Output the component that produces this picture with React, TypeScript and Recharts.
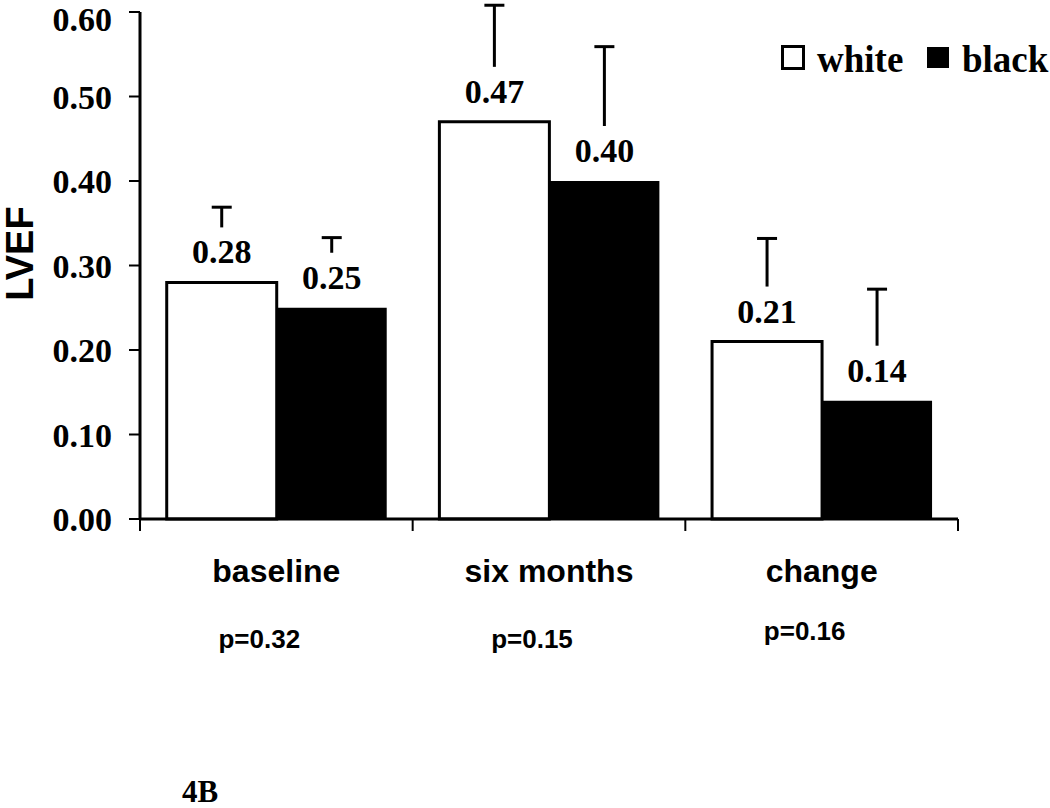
import { Bar, BarChart, LabelList, XAxis, YAxis } from 'recharts';

const CATEGORIES = ['baseline', 'six months', 'change'];
const WHITE_VALUES = [0.28, 0.47, 0.21];
const BLACK_VALUES = [0.25, 0.4, 0.14];
const WHITE_ERRORS = [0.089, 0.138, 0.122];
const BLACK_ERRORS = [0.083, 0.159, 0.132];
const P_VALUES = ['p=0.32', 'p=0.15', 'p=0.16'];
const Y_TICKS = [0, 0.1, 0.2, 0.3, 0.4, 0.5, 0.6];

const W = 1050;
const H = 808;
const MARGIN = { top: 12, right: 92, bottom: 0, left: 0 };
const Y_AXIS_W = 140;
const X_AXIS_H = 289;
const PLOT_W = W - MARGIN.right - Y_AXIS_W;

// vertical offsets for the p-value line under each category
const P_LABEL_DY = [129, 129, 121];

const SERIF = '"Liberation Serif", "Times New Roman", serif';
const SANS = '"Liberation Sans", Arial, sans-serif';

const data = CATEGORIES.map((category, i) => ({
  category,
  white: WHITE_VALUES[i],
  black: BLACK_VALUES[i],
}));

function CategoryTick(props: any) {
  const { x, y, payload, index } = props;
  const half = payload?.offset || PLOT_W / CATEGORIES.length / 2;
  const left = x - half;
  const isLast = index === CATEGORIES.length - 1;
  return (
    <g>
      <line x1={left} y1={y} x2={left} y2={y + 12} stroke="#000" strokeWidth={2} />
      {isLast && <line x1={x + half} y1={y} x2={x + half} y2={y + 12} stroke="#000" strokeWidth={2} />}
      <text x={x} y={y + 63} textAnchor="middle" fontFamily={SANS} fontWeight="bold" fontSize={32} fill="#000">
        {payload.value}
      </text>
      <text x={x - 17} y={y + P_LABEL_DY[index]} textAnchor="middle" fontFamily={SANS} fontWeight="bold" fontSize={26} fill="#000">
        {P_VALUES[index]}
      </text>
    </g>
  );
}

// value label plus a one-sided (upper) error bar; the lower part of the
// stem is hidden behind the label box like in the original figure
function makeLabel(errors: number[]) {
  return function BarLabel(props: any) {
    const { x, y, width, height, value, index } = props;
    const cx = x + width / 2;
    const pxPerUnit = height / value;
    const top = y - errors[index] * pxPerUnit;
    const stemBottom = y - 55;
    return (
      <g>
        <line x1={cx} y1={top} x2={cx} y2={stemBottom} stroke="#000" strokeWidth={3} />
        <line x1={cx - 10} y1={top} x2={cx + 10} y2={top} stroke="#000" strokeWidth={3} />
        <text x={cx} y={y - 19} textAnchor="middle" fontFamily={SERIF} fontWeight="bold" fontSize={34} fill="#000">
          {Number(value).toFixed(2)}
        </text>
      </g>
    );
  };
}

function YLabel(props: any) {
  const { viewBox } = props;
  const cy = viewBox.y + viewBox.height / 2 - 12;
  return (
    <text
      x={33}
      y={cy}
      transform={`rotate(-90, 33, ${cy})`}
      textAnchor="middle"
      fontFamily={SANS}
      fontWeight="bold"
      fontSize={38}
      fill="#000"
    >
      LVEF
    </text>
  );
}

export default function App() {
  return (
    <div style={{ position: 'absolute', left: 0, top: 0, width: W, height: H, background: '#fff' }}>
      <BarChart width={W} height={H} data={data} margin={MARGIN} barCategoryGap="9.8%" barGap={0}>
        <XAxis
          dataKey="category"
          height={X_AXIS_H}
          interval={0}
          tickLine={false}
          tickSize={0}
          tickMargin={0}
          axisLine={{ stroke: '#000', strokeWidth: 3 }}
          tick={CategoryTick}
        />
        <YAxis
          type="number"
          domain={[0, 0.6]}
          ticks={Y_TICKS}
          width={Y_AXIS_W}
          tickSize={11}
          tickMargin={17}
          tickFormatter={(v: number) => v.toFixed(2)}
          axisLine={{ stroke: '#000', strokeWidth: 3 }}
          tickLine={{ stroke: '#000', strokeWidth: 2 }}
          tick={{ fontFamily: SERIF, fontWeight: 'bold', fontSize: 34, fill: '#000' }}
          label={<YLabel />}
        />
        <Bar dataKey="white" fill="#fff" stroke="#000" strokeWidth={3} isAnimationActive={false}>
          <LabelList dataKey="white" content={makeLabel(WHITE_ERRORS)} />
        </Bar>
        <Bar dataKey="black" fill="#000" isAnimationActive={false}>
          <LabelList dataKey="black" content={makeLabel(BLACK_ERRORS)} />
        </Bar>
      </BarChart>
      <svg
        width={W}
        height={H}
        style={{ position: 'absolute', left: 0, top: 0, pointerEvents: 'none' }}
      >
        <rect x={782.5} y={46.5} width={21} height={22} fill="#fff" stroke="#000" strokeWidth={3} />
        <text x={817} y={72} fontFamily={SERIF} fontWeight="bold" fontSize={37} fill="#000">white</text>
        <rect x={927} y={47} width={22} height={21} fill="#000" />
        <text x={962} y={72} fontFamily={SERIF} fontWeight="bold" fontSize={37} fill="#000">black</text>
        <text x={182} y={802} fontFamily={SERIF} fontWeight="bold" fontSize={31} fill="#000">4B</text>
      </svg>
    </div>
  );
}
